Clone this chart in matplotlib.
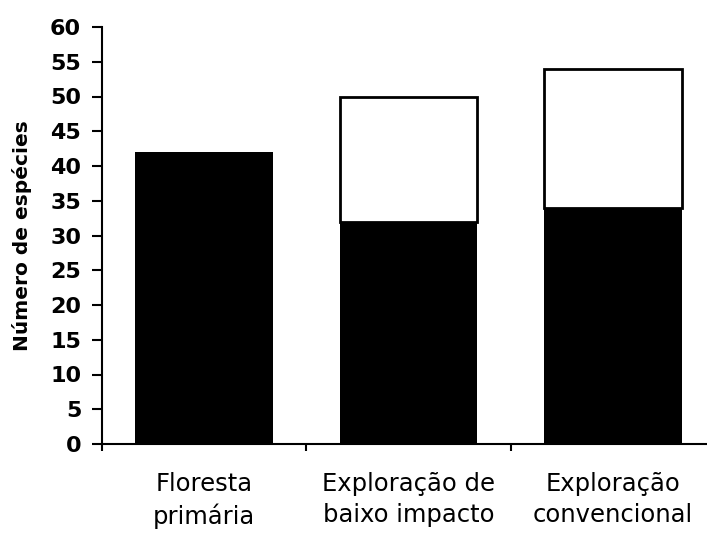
import matplotlib
matplotlib.use("Agg")
import matplotlib.pyplot as plt
import numpy as np

categories = ["Floresta\nprimária", "Exploração de\nbaixo impacto", "Exploração\nconvencional"]
black_vals = [42, 32, 34]
white_vals = [0, 18, 20]
y_ticks = list(range(0, 61, 5))
y_label = "Número de espécies"

plt.rcParams['font.family'] = ['DejaVu Sans']

fig = plt.figure(figsize=(7.07, 5.34), dpi=100)
ax = fig.add_axes([102/707, 90/534, 613/707, 417/534])

x = np.arange(len(categories))
w = 0.675
ax.bar(x, black_vals, width=w, color="black", edgecolor="none", zorder=2)
mask = np.array([v > 0 for v in white_vals])
ax.bar(x[mask], np.array(white_vals)[mask], bottom=np.array(black_vals)[mask], width=w,
       color="white", edgecolor="black", linewidth=2, zorder=2)

ax.set_xlim(-0.5, 2.5)
ax.set_ylim(0, 60)
ax.set_yticks(y_ticks)
ax.set_yticklabels([str(t) for t in y_ticks], fontsize=16, fontweight="bold")
ax.set_xticks(x)
ax.set_xticklabels(categories, fontsize=17.5, linespacing=1.38)
ax.set_xticks(np.arange(-0.5, 2.6, 1.0), minor=True)
ax.tick_params(axis="x", which="major", length=0, pad=20)
ax.tick_params(axis="x", which="minor", length=5, width=1.5, direction="out")
ax.tick_params(axis="y", which="major", length=7, width=1.5, direction="out", pad=8)

for s in ["top", "right"]:
    ax.spines[s].set_visible(False)
for s in ["left", "bottom"]:
    ax.spines[s].set_linewidth(1.5)

ax.set_ylabel(y_label, fontsize=14.5, fontweight="bold")
ax.yaxis.set_label_coords(-0.114, 0.5)

fig.savefig("out.png", dpi=100)
